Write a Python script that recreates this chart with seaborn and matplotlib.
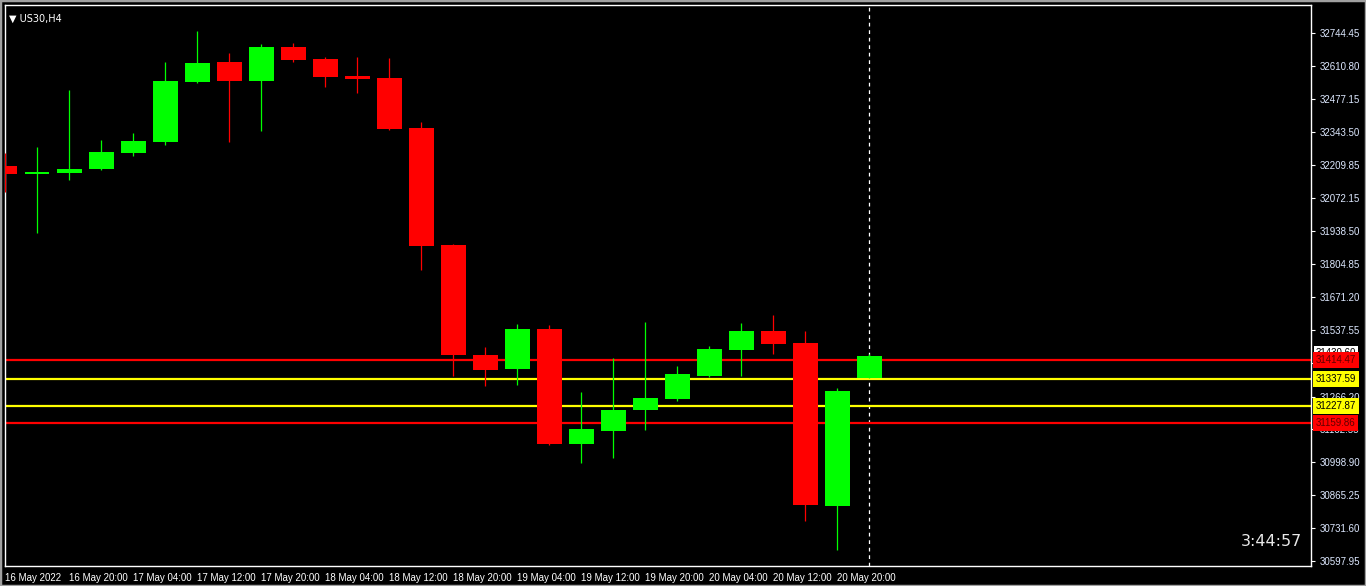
import matplotlib
matplotlib.use("Agg")
import matplotlib.pyplot as plt
import matplotlib.transforms as mtransforms
import seaborn as sns

# US30 H4 candles, 16 May 12:00 .. 20 May 24:00
opens = [32204.4, 32171.8, 32175.9, 32192.2, 32257.3, 32302.0, 32546.2, 32627.6,
         32550.3, 32688.7, 32639.9, 32570.7, 32562.5, 32359.0, 31882.9, 31435.2,
         31378.3, 31541.1, 31073.1, 31126.0, 31211.5, 31256.0, 31349.7, 31455.6,
         31532.9, 31484.1, 30820.7, 31341.5]
highs = [32257.3, 32281.7, 32513.7, 32310.2, 32338.7, 32627.6, 32753.8, 32664.3,
         32700.9, 32705.0, 32648.0, 32648.0, 32643.9, 32383.5, 31885.0, 31467.8,
         31561.4, 31557.3, 31284.6, 31423.0, 31569.5, 31391.0, 31472.0, 31565.4,
         31597.9, 31532.9, 31301.0, 31441.0]
lows = [32098.5, 31931.7, 32147.4, 32190.0, 32245.0, 32290.0, 32542.0, 32302.0,
        32346.8, 32627.6, 32525.9, 32501.5, 32350.9, 31781.1, 31349.7, 31309.0,
        31313.0, 31069.0, 30995.8, 31016.0, 31130.0, 31248.0, 31345.6, 31349.7,
        31440.0, 30759.7, 30641.0, 31340.0]
closes = [32171.8, 32180.0, 32192.2, 32261.3, 32306.1, 32550.3, 32623.5, 32550.3,
          32688.7, 32635.8, 32566.6, 32558.4, 32355.0, 31878.8, 31435.2, 31374.2,
          31541.1, 31073.1, 31134.1, 31211.5, 31260.3, 31358.0, 31459.6, 31532.9,
          31480.0, 30824.8, 31288.7, 31430.6]

date_labels = ["16 May 2022", "16 May 20:00", "17 May 04:00", "17 May 12:00",
               "17 May 20:00", "18 May 04:00", "18 May 12:00", "18 May 20:00",
               "19 May 04:00", "19 May 12:00", "19 May 20:00", "20 May 04:00",
               "20 May 12:00", "20 May 20:00"]
price_ticks = [32744.45, 32610.80, 32477.15, 32343.50, 32209.85, 32072.15,
               31938.50, 31804.85, 31671.20, 31537.55, 31403.90, 31266.20,
               31132.55, 30998.90, 30865.25, 30731.60, 30597.95]
level_values = [31414.47, 31337.59, 31227.87, 31159.86]
level_colors = ["#ff0000", "#ffff00", "#ffff00", "#ff0000"]
bid = 31430.60
timer = "3:44:57"

sns.set_theme(style="dark", rc={"axes.facecolor": "black", "figure.facecolor": "black"})
plt.rcParams["font.family"] = ["Liberation Sans", "DejaVu Sans"]
small = 7

fig = plt.figure(figsize=(13.66, 5.86), dpi=100)
ax = fig.add_axes([5 / 1366, 20 / 586, 1306 / 1366, 561 / 586])
ax.set_facecolor("black")

n = len(opens)
xs = list(range(n))
up_color, down_color = "#00ff00", "#ff0000"
for i in xs:
    col = up_color if closes[i] >= opens[i] else down_color
    ax.vlines(i, lows[i], highs[i], color=col, lw=0.9, zorder=3)
    lo, hi = min(opens[i], closes[i]), max(opens[i], closes[i])
    ax.bar(i, max(hi - lo, 4), bottom=lo, width=0.78, color=col, lw=0, zorder=4)

for val, col in zip(level_values, level_colors):
    ax.axhline(val, color=col, lw=1.6, zorder=2)

ax.axvline(n - 1, color="white", lw=0.9, ls=(0, (3, 3)), zorder=1)

ax.set_xlim(0, 40.8)
ax.set_ylim(30576.4, 32859.6)

# axes styling
for sp in ax.spines.values():
    sp.set_color("white")
    sp.set_linewidth(1)
ax.yaxis.tick_right()
ax.set_yticks(price_ticks)
ax.set_yticklabels([f"{v:.2f}" for v in price_ticks])
ax.tick_params(axis="y", colors="white", labelcolor="#dde8ff", labelsize=small, length=3,
               width=0.8, pad=3, direction="out")
ax.set_xticks(list(range(0, 2 * len(date_labels), 2)))
ax.set_xticklabels(date_labels, ha="left")
ax.tick_params(axis="x", colors="white", labelcolor="white", labelsize=small, length=3,
               width=0.8, pad=2, direction="out")
ax.grid(False)

# price tags on the right scale
trans = mtransforms.blended_transform_factory(ax.transAxes, ax.transData)
ax.text(1.0035, bid + 12, f"{bid:.2f}", transform=trans, fontsize=small, color="black",
        va="center", ha="left", clip_on=False, zorder=5,
        bbox=dict(boxstyle="square,pad=0.2", fc="white", ec="none"))
for val, col in zip(level_values, level_colors):
    ax.text(1.0035, val, f"{val:.2f}", transform=trans, fontsize=small,
            color="#600000" if col == "#ff0000" else "black",
            va="center", ha="left", clip_on=False, zorder=6,
            bbox=dict(boxstyle="square,pad=0.3", fc=col, ec="none"))

# symbol caption and countdown
ax.text(0.003, 0.985, "\u25bc US30,H4", transform=ax.transAxes, fontsize=7,
        color="white", va="top", ha="left", family=["DejaVu Sans"])
ax.text(0.993, 0.03, timer, transform=ax.transAxes, fontsize=11.5,
        color="#e8e8e8", va="bottom", ha="right", family=["DejaVu Sans"])

# outer frame
fig.patches.append(plt.Rectangle((0, 0), 1, 1, transform=fig.transFigure, fill=False,
                                 ec="#a0a0a0", lw=2.5))

fig.savefig("out.png", dpi=100, facecolor="black")
